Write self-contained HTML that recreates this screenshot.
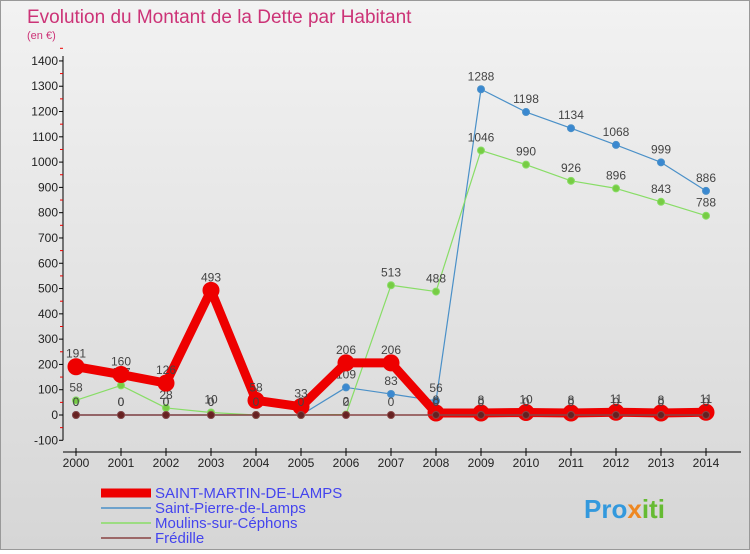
<!DOCTYPE html>
<html><head><meta charset="utf-8"><style>
body{margin:0;width:750px;height:550px;overflow:hidden;font-family:"Liberation Sans",sans-serif;}
#wrap{position:relative;width:748px;height:548px;border:1px solid #999;background:linear-gradient(#f2f2f2,#d6d6d6);}
</style></head><body>
<div id="wrap">
<svg id="svg" width="748" height="548" xmlns="http://www.w3.org/2000/svg">
<text x="26" y="22" font-size="19" fill="#cc3377">Evolution du Montant de la Dette par Habitant</text>
<text x="26" y="38" font-size="11" fill="#cc3377">(en €)</text>
<g id="axes"></g><g id="series"></g><g id="legend"></g>
<text x="583" y="517" font-size="26" font-weight="bold" fill="#3399dd">Pro<tspan fill="#ee8822">x</tspan><tspan fill="#66bb33">iti</tspan></text>
</svg></div>
<script>
const years=[2000,2001,2002,2003,2004,2005,2006,2007,2008,2009,2010,2011,2012,2013,2014];
const yTicks=[-100,0,100,200,300,400,500,600,700,800,900,1000,1100,1200,1300,1400];
const stMartin=[191,160,126,493,58,33,206,206,8,8,10,8,11,8,11];
const stPierre=[0,0,0,0,0,0,109,83,56,1288,1198,1134,1068,999,886];
const moulins=[58,117,28,10,0,0,2,513,488,1046,990,926,896,843,788];
const fredille=[0,0,0,0,0,0,0,0,0,0,0,0,0,0,0];
const names=["SAINT-MARTIN-DE-LAMPS","Saint-Pierre-de-Lamps","Moulins-sur-Céphons","Frédille"];
const NS="http://www.w3.org/2000/svg";
const X=i=>75+i*45, Y=v=>414-v*0.2529;
function mk(t,a,p){const e=document.createElementNS(NS,t);for(const k in a)e.setAttribute(k,a[k]);p.appendChild(e);return e;}
const ax=document.getElementById('axes');
let l=mk('line',{x1:62,y1:Y(1400)-5,x2:62,y2:Y(-100),stroke:'#000'},ax);


yTicks.forEach(v=>{
 mk('line',{x1:58,x2:62,y1:Y(v),y2:Y(v),stroke:'#000'},ax);
 mk('line',{x1:59,x2:62,y1:Y(v+50),y2:Y(v+50),stroke:'#e00'},ax);
 const t=mk('text',{x:57,y:Y(v)+4,'font-size':12,'text-anchor':'end',fill:'#222'},ax);t.textContent=v;
 
 
});
l=mk('line',{x1:62,y1:451,x2:740,y2:451,stroke:'#000'},ax);


years.forEach((y,i)=>{
 mk('line',{x1:X(i),x2:X(i),y1:447,y2:455,stroke:'#000'},ax);
 const t=mk('text',{x:X(i),y:466,'font-size':12,'text-anchor':'middle',fill:'#222'},ax);t.textContent=y;
 
 
});
const sg=document.getElementById('series');
function draw(data,color,w,r,dot,name,labels){
 const g=mk('g',{},sg);
 
 
 mk('polyline',{points:data.map((v,i)=>X(i)+','+Y(v)).join(' '),fill:'none',stroke:color,'stroke-width':w,'stroke-linejoin':'round'},g);
 data.forEach((v,i)=>{
  const c=mk('circle',{cx:X(i),cy:Y(v),r:r,fill:dot,stroke:color,'stroke-width':1},g);
  
  
  if(labels){const t=mk('text',{x:X(i),y:Y(v)-9,'font-size':12,'text-anchor':'middle',fill:'#444'},g);t.textContent=v;}
 });
}
draw(stPierre,'#4a90c8',1.2,3.5,'#3a88d0','series-saint-pierre',true);
draw(moulins,'#88dd66',1.2,3.5,'#77cc44','series-moulins',true);
draw(stMartin,'#ee0000',9,8,'#ee0000','series-saint-martin',true);
draw(fredille,'#884444',1.5,3.5,'#662222','series-fredille',true);
const lg=document.getElementById('legend');
const lc=['#ee0000','#4a90c8','#88dd66','#884444'],lw=[9,1.5,1.5,1.5];
names.forEach((n,i)=>{
 const g=mk('g',{},lg);
 
 
 const y=492+i*15;
 mk('line',{x1:100,x2:150,y1:y,y2:y,stroke:lc[i],'stroke-width':lw[i]},g);
 const t=mk('text',{x:154,y:y+5,'font-size':15,fill:'#4444ee'},g);t.textContent=n;
});
</script>
</body></html>
